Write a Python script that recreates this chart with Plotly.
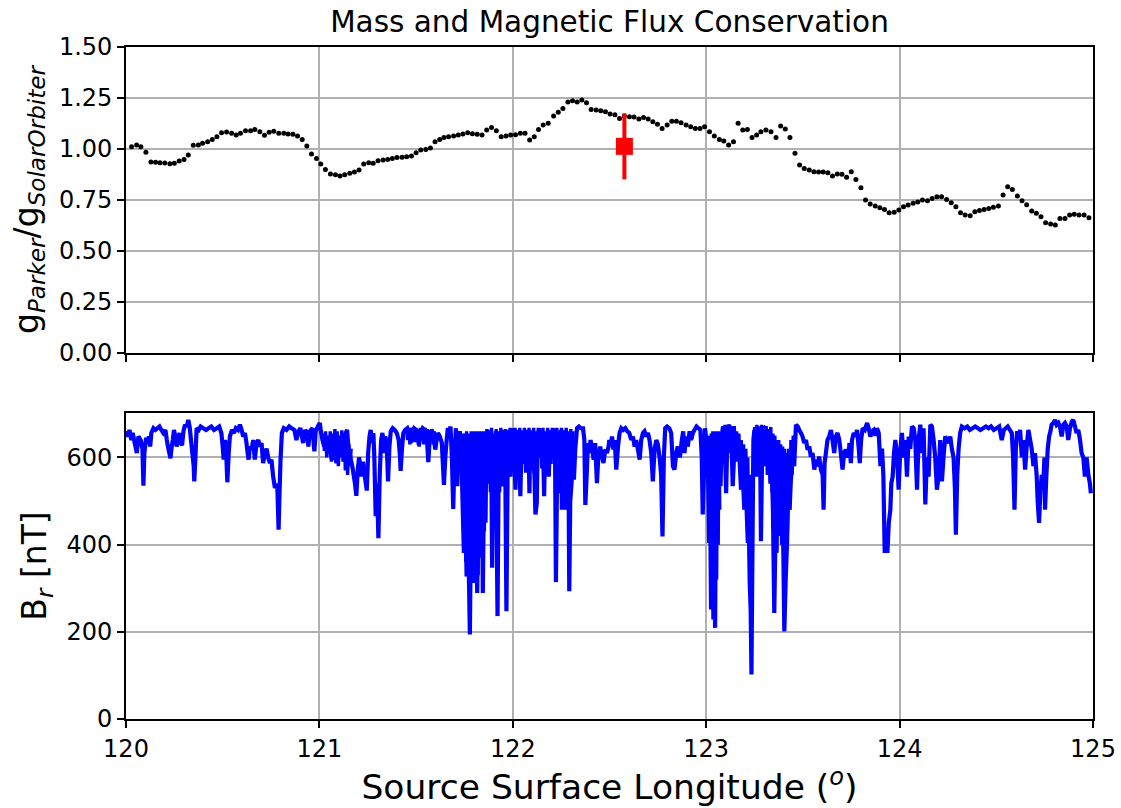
import plotly.graph_objects as go
from plotly.subplots import make_subplots

# ---------------- top panel: g_Parker / g_SolarOrbiter ----------------
ratio_lon = [
    120.029, 120.055, 120.077, 120.103, 120.129, 120.153, 120.176, 120.201, 120.227, 120.250,
    120.275, 120.300, 120.322, 120.348, 120.374, 120.396, 120.422, 120.446, 120.470, 120.494,
    120.520, 120.546, 120.570, 120.592, 120.618, 120.644, 120.666, 120.692, 120.716, 120.740,
    120.764, 120.790, 120.816, 120.838, 120.863, 120.887, 120.911, 120.935, 120.959, 120.985,
    121.007, 121.031, 121.057, 121.083, 121.107, 121.131, 121.157, 121.181, 121.205, 121.229,
    121.255, 121.278, 121.303, 121.329, 121.353, 121.377, 121.401, 121.427, 121.451, 121.476,
    121.500, 121.524, 121.550, 121.574, 121.598, 121.622, 121.644, 121.668, 121.694, 121.718,
    121.742, 121.767, 121.791, 121.816, 121.841, 121.865, 121.890, 121.915, 121.940, 121.965,
    121.989, 122.014, 122.039, 122.063, 122.087, 122.111, 122.133, 122.157, 122.183, 122.211,
    122.235, 122.259, 122.285, 122.309, 122.333, 122.357, 122.381, 122.405, 122.431, 122.455,
    122.479, 122.503, 122.528, 122.552, 122.577, 122.603, 122.627, 122.652, 122.676, 122.700,
    122.724, 122.748, 122.772, 122.798, 122.822, 122.846, 122.870, 122.896, 122.920, 122.944,
    122.968, 122.992, 123.017, 123.042, 123.068, 123.091, 123.116, 123.141, 123.165, 123.189,
    123.213, 123.237, 123.261, 123.283, 123.309, 123.335, 123.361, 123.385, 123.409, 123.433,
    123.459, 123.483, 123.507, 123.533, 123.557, 123.581, 123.605, 123.629, 123.653, 123.678,
    123.702, 123.726, 123.750, 123.774, 123.800, 123.824, 123.848, 123.874, 123.898, 123.922,
    123.946, 123.972, 123.996, 124.020, 124.044, 124.070, 124.094, 124.118, 124.144, 124.168,
    124.193, 124.217, 124.243, 124.267, 124.291, 124.315, 124.339, 124.365, 124.389, 124.413,
    124.437, 124.461, 124.485, 124.511, 124.535, 124.559, 124.583, 124.609, 124.633, 124.657,
    124.683, 124.707, 124.731, 124.755, 124.781, 124.805, 124.829, 124.855, 124.879, 124.903,
    124.928, 124.954, 124.979,
]
ratio_val = [
    1.011, 1.020, 1.011, 0.984, 0.936, 0.935, 0.933, 0.931, 0.928, 0.930,
    0.941, 0.949, 0.971, 1.018, 1.020, 1.028, 1.036, 1.047, 1.060, 1.080,
    1.083, 1.077, 1.069, 1.077, 1.090, 1.090, 1.096, 1.085, 1.067, 1.082,
    1.087, 1.077, 1.077, 1.074, 1.072, 1.064, 1.047, 1.015, 0.975, 0.953,
    0.926, 0.900, 0.877, 0.874, 0.868, 0.874, 0.881, 0.887, 0.897, 0.926,
    0.933, 0.930, 0.943, 0.946, 0.949, 0.953, 0.958, 0.959, 0.962, 0.966,
    0.982, 0.995, 0.998, 1.005, 1.036, 1.047, 1.056, 1.060, 1.064, 1.069,
    1.074, 1.080, 1.075, 1.072, 1.069, 1.093, 1.106, 1.090, 1.060, 1.064,
    1.069, 1.070, 1.077, 1.077, 1.044, 1.060, 1.096, 1.118, 1.126, 1.162,
    1.180, 1.199, 1.230, 1.237, 1.230, 1.240, 1.227, 1.194, 1.191, 1.188,
    1.183, 1.172, 1.168, 1.150, 1.162, 1.158, 1.157, 1.147, 1.155, 1.147,
    1.134, 1.121, 1.101, 1.118, 1.136, 1.136, 1.129, 1.118, 1.109, 1.101,
    1.101, 1.109, 1.085, 1.064, 1.047, 1.039, 1.020, 1.036, 1.126, 1.093,
    1.096, 1.057, 1.069, 1.085, 1.093, 1.085, 1.056, 1.113, 1.098, 1.057,
    0.979, 0.922, 0.905, 0.897, 0.889, 0.887, 0.887, 0.884, 0.868, 0.877,
    0.876, 0.861, 0.889, 0.851, 0.810, 0.750, 0.730, 0.721, 0.712, 0.704,
    0.688, 0.690, 0.701, 0.717, 0.725, 0.734, 0.740, 0.750, 0.747, 0.757,
    0.766, 0.766, 0.753, 0.737, 0.717, 0.688, 0.676, 0.673, 0.693, 0.698,
    0.704, 0.708, 0.714, 0.721, 0.775, 0.815, 0.802, 0.770, 0.747, 0.727,
    0.696, 0.685, 0.668, 0.639, 0.632, 0.627, 0.660, 0.660, 0.676, 0.680,
    0.676, 0.676, 0.663,
]

# single measurement with error bar
point_lon = [122.577]
point_val = [1.013]
point_err = [0.162]

# ---------------- bottom panel: B_r [nT] ----------------
br_lon = [
    120.001, 120.011, 120.018, 120.028, 120.035, 120.045, 120.056, 120.064, 120.076, 120.085,
    120.090, 120.095, 120.104, 120.111, 120.118, 120.125, 120.131, 120.142, 120.152, 120.162,
    120.173, 120.183, 120.193, 120.204, 120.211, 120.217, 120.224, 120.230, 120.235, 120.242,
    120.248, 120.255, 120.262, 120.269, 120.276, 120.283, 120.290, 120.297, 120.305, 120.314,
    120.322, 120.329, 120.336, 120.343, 120.350, 120.353, 120.359, 120.365, 120.376, 120.386,
    120.400, 120.414, 120.427, 120.441, 120.455, 120.469, 120.482, 120.493, 120.500, 120.505,
    120.512, 120.519, 120.524, 120.531, 120.537, 120.548, 120.558, 120.568, 120.579, 120.589,
    120.598, 120.606, 120.615, 120.623, 120.629, 120.634, 120.641, 120.649, 120.658, 120.666,
    120.675, 120.684, 120.692, 120.701, 120.709, 120.718, 120.727, 120.735, 120.744, 120.752,
    120.761, 120.770, 120.778, 120.783, 120.789, 120.794, 120.799, 120.806, 120.816, 120.830,
    120.844, 120.857, 120.871, 120.881, 120.892, 120.902, 120.916, 120.926, 120.936, 120.943,
    120.950, 120.964, 120.974, 120.981, 120.992, 121.002, 121.009, 121.016, 121.024, 121.031,
    121.040, 121.048, 121.057, 121.065, 121.072, 121.081, 121.088, 121.095, 121.102, 121.108,
    121.115, 121.122, 121.129, 121.136, 121.143, 121.150, 121.157, 121.163, 121.170, 121.177,
    121.184, 121.191, 121.198, 121.205, 121.212, 121.218, 121.225, 121.234,
    121.245, 121.252, 121.259, 121.265, 121.272, 121.279, 121.284, 121.291, 121.298, 121.305,
    121.312, 121.319, 121.326, 121.334, 121.341, 121.348, 121.355, 121.362, 121.369, 121.379,
    121.389, 121.400, 121.410, 121.417, 121.420, 121.427, 121.434, 121.444, 121.455, 121.465,
    121.472, 121.480, 121.489, 121.499, 121.506, 121.515, 121.523, 121.534, 121.544, 121.554,
    121.563, 121.570, 121.578, 121.589, 121.599, 121.606, 121.613, 121.623, 121.633, 121.644,
    121.651, 121.658, 121.664, 121.671, 121.678, 121.685, 121.692, 121.699, 121.706, 121.713,
    121.719, 121.726, 121.733, 121.740, 121.747, 121.752, 121.757, 121.761, 121.766, 121.771,
    121.778, 121.783, 121.790, 121.795, 121.802, 121.809, 121.816, 121.823, 121.830, 121.833,
    121.840, 121.845, 121.850, 121.854, 121.861, 121.867, 121.874, 121.881, 121.888, 121.893,
    121.898, 121.905, 121.912, 121.921, 121.928, 121.936, 121.945, 121.953, 121.960, 121.967,
    121.974, 121.981, 121.988, 121.995, 122.002, 122.008, 122.014, 122.020, 122.027, 122.034,
    122.039, 122.046, 122.053, 122.060, 122.067, 122.074, 122.081, 122.086, 122.091, 122.098,
    122.105, 122.112, 122.117, 122.124, 122.129, 122.136, 122.143, 122.149, 122.156, 122.162,
    122.168, 122.177, 122.186, 122.194, 122.203, 122.211, 122.218, 122.223, 122.229, 122.235,
    122.242, 122.249, 122.254, 122.261, 122.268, 122.273, 122.280, 122.287, 122.292, 122.297,
    122.306, 122.311, 122.316, 122.323, 122.332, 122.342, 122.352, 122.363, 122.370, 122.375,
    122.382, 122.389, 122.395, 122.402, 122.411, 122.418, 122.426, 122.435, 122.442, 122.452,
    122.461, 122.469, 122.478, 122.487, 122.495,
    122.499, 122.506, 122.513, 122.520, 122.527, 122.535, 122.544, 122.552, 122.561, 122.571,
    122.582, 122.592, 122.602, 122.613, 122.621, 122.630, 122.638, 122.647, 122.656, 122.664,
    122.673, 122.681, 122.690, 122.699, 122.707, 122.716, 122.724, 122.733, 122.742, 122.750,
    122.759, 122.767, 122.774, 122.781, 122.788, 122.798, 122.809, 122.819, 122.828, 122.836,
    122.845, 122.853, 122.864, 122.874, 122.881, 122.888, 122.895, 122.905, 122.914, 122.922,
    122.931, 122.939, 122.950, 122.960, 122.970, 122.977, 122.982, 122.988, 122.994, 123.001,
    123.008, 123.015, 123.020, 123.025, 123.032, 123.037, 123.043, 123.046, 123.051, 123.056,
    123.062, 123.067, 123.074, 123.080, 123.087, 123.094, 123.103, 123.108, 123.115, 123.122,
    123.129, 123.137, 123.146, 123.154, 123.163, 123.172, 123.180, 123.189, 123.197, 123.206,
    123.215, 123.220, 123.225, 123.230, 123.234, 123.239, 123.244, 123.249, 123.258, 123.266,
    123.273, 123.280, 123.283, 123.289, 123.295, 123.304, 123.311, 123.318, 123.325, 123.332,
    123.338, 123.345, 123.352, 123.359, 123.364, 123.369, 123.376, 123.383, 123.390, 123.397,
    123.404, 123.411, 123.418, 123.424, 123.431, 123.438, 123.447, 123.455, 123.464, 123.473,
    123.481, 123.490, 123.498, 123.507, 123.516, 123.524, 123.533, 123.541, 123.550, 123.559,
    123.567, 123.576, 123.584, 123.593, 123.602, 123.607, 123.612, 123.619, 123.627, 123.636,
    123.645, 123.653, 123.662, 123.670, 123.679, 123.688, 123.696, 123.705, 123.713, 123.722,
    123.731, 123.739,
    123.741, 123.748, 123.754, 123.763, 123.772, 123.780, 123.789, 123.794, 123.801, 123.809,
    123.820, 123.832, 123.840, 123.849, 123.858, 123.866, 123.875, 123.883, 123.892, 123.901,
    123.909, 123.916, 123.923, 123.930, 123.937, 123.944, 123.952, 123.957, 123.964, 123.971,
    123.978, 123.987, 123.995, 124.004, 124.012, 124.021, 124.030, 124.038, 124.047, 124.055,
    124.064, 124.073, 124.081, 124.090, 124.098, 124.107, 124.116, 124.124, 124.133, 124.141,
    124.150, 124.159, 124.167, 124.176, 124.184, 124.193, 124.202, 124.210, 124.219, 124.227,
    124.236, 124.245, 124.253, 124.262, 124.270, 124.279, 124.286, 124.291, 124.298, 124.305,
    124.313, 124.322, 124.336, 124.350, 124.363, 124.377, 124.391, 124.405, 124.418, 124.432,
    124.446, 124.460, 124.473, 124.487, 124.501, 124.515, 124.528, 124.539, 124.549, 124.559,
    124.570, 124.580, 124.587, 124.594, 124.601, 124.608, 124.614, 124.623, 124.632, 124.640,
    124.649, 124.657, 124.666, 124.675, 124.683, 124.692, 124.700, 124.709, 124.714, 124.721,
    124.728, 124.735, 124.742, 124.749, 124.752, 124.759, 124.766, 124.773, 124.780, 124.786,
    124.795, 124.804, 124.812, 124.821, 124.829, 124.838, 124.847, 124.855, 124.864, 124.872,
    124.881, 124.890, 124.898, 124.907, 124.915, 124.924, 124.933, 124.941, 124.950, 124.958,
    124.967, 124.976, 124.984, 124.989,
]
br_val = [
    660, 648, 663, 640, 656, 633, 610, 648, 640, 620,
    535, 610, 645, 633, 648, 625, 656, 667, 663, 667,
    671, 663, 656, 663, 640, 625, 610, 598, 620, 640,
    663, 648, 625, 640, 656, 633, 628, 660, 675, 670,
    686, 670, 640, 610, 580, 545, 600, 667, 663, 671,
    667, 663, 667, 671, 663, 667, 671, 656, 625, 595,
    640, 600, 543, 610, 648, 663, 656, 667, 663, 675,
    663, 648, 656, 633, 610, 595, 625, 618, 640, 595,
    633, 640, 625, 633, 587, 610, 620, 600, 587, 595,
    556, 530, 540, 526, 434, 520, 595, 656, 667, 663,
    671, 667, 663, 640, 660, 667, 633, 663, 656, 625,
    660, 667, 614, 660, 671, 679, 656, 640, 625, 648,
    618, 633, 610, 595, 620, 602, 587, 630, 648, 640,
    618, 625, 648, 656, 663, 625, 610, 595, 580, 560,
    540, 512, 570, 600, 580, 556, 590, 560,
    524, 610, 648, 663, 633, 656, 600, 465, 540, 415,
    560, 640, 656, 610, 648, 633, 545, 625, 660, 667,
    663, 656, 640, 600, 569, 620, 656, 663, 667, 656,
    633, 660, 667, 663, 648, 628, 656, 667, 663, 660,
    589, 640, 663, 656, 618, 640, 656, 648, 633, 537,
    600, 640, 667, 660, 671, 600, 482, 610, 667, 534,
    640, 660, 633, 500, 381, 560, 450, 327, 600, 380,
    194, 420, 327, 600, 312, 500, 289, 560, 640, 442,
    600, 289, 500, 480, 640, 556, 663, 600, 650, 347,
    610, 545, 660, 236, 640, 556, 534, 663, 640, 247,
    610, 663, 556, 667, 640, 600, 526, 663, 640, 600,
    511, 650, 640, 595, 663, 620, 650, 518, 660, 640,
    600, 560, 469, 495, 640, 667, 633, 600, 640, 511,
    656, 620, 556, 663, 602, 667, 640, 314, 560, 518,
    600, 663, 480, 620, 660, 480, 560, 640, 293, 500,
    556, 640, 549, 620, 667, 671, 667, 667, 640, 491,
    560, 633, 610, 640, 618, 595, 633, 541, 600, 625,
    602, 587, 618, 610, 625,
    640, 625, 648, 618, 640, 572, 625, 656, 667, 663,
    667, 660, 656, 640, 648, 625, 640, 618, 595, 640,
    656, 660, 648, 656, 640, 610, 545, 618, 640, 630,
    600, 560, 419, 600, 667, 671, 667, 656, 580, 572,
    610, 625, 600, 640, 660, 610, 648, 625, 660, 640,
    656, 663, 671, 667, 663, 600, 469, 560, 667, 640,
    610, 404, 520, 251, 480, 228, 380, 209, 572, 400,
    520, 560, 534, 648, 671, 663, 518, 620, 675, 667,
    671, 534, 620, 648, 640, 600, 526, 560, 480, 520,
    404, 450, 312, 250, 102, 380, 640, 663, 556, 600,
    671, 560, 408, 600, 671, 667, 600, 663, 640, 540,
    600, 480, 243, 450, 381, 560, 500, 600, 540, 450,
    201, 320, 404, 520, 480, 550, 600, 580, 675, 671,
    663, 656, 648, 633, 640, 618, 625, 602, 610, 572,
    595, 580, 602, 572, 560, 480, 587, 610, 640, 648,
    663, 640, 610, 648, 656, 640, 610, 572, 610, 618,
    600, 625,
    633, 587, 640, 656, 648, 663, 620, 587, 640, 667,
    663, 679, 667, 648, 660, 663, 650, 667, 656, 580,
    620, 560, 381, 420, 381, 450, 480, 540, 556, 610,
    640, 600, 526, 620, 656, 600, 640, 556, 648, 620,
    671, 667, 640, 526, 640, 675, 610, 667, 492, 600,
    556, 675, 671, 640, 600, 526, 560, 640, 545, 600,
    648, 640, 633, 648, 620, 600, 530, 423, 560, 620,
    656, 671, 667, 671, 663, 667, 671, 667, 663, 667,
    671, 667, 671, 663, 667, 671, 640, 663, 667, 671,
    663, 656, 600, 480, 620, 660, 640, 663, 600, 640,
    572, 625, 663, 640, 620, 580, 610, 556, 500, 450,
    520, 560, 530, 600, 480, 560, 620, 648, 660, 675,
    679, 686, 675, 679, 671, 648, 675, 679, 671, 640,
    667, 682, 686, 671, 656, 663, 640, 610, 600, 556,
    600, 560, 540, 518,
]

# fast fluctuations that fill the busiest stretches of B_r solid blue,
# one pair of lists per stretch
band1_lon = [121.020, 121.026, 121.032, 121.038, 121.044, 121.050, 121.056, 121.062, 121.068,
             121.074, 121.080, 121.086, 121.092, 121.098, 121.104, 121.110, 121.116, 121.122,
             121.128, 121.134, 121.140, 121.146, 121.152, 121.158, 121.164]
band1_val = [655, 615, 660, 600, 650, 610, 660, 590, 655,
             600, 665, 605, 660, 580, 650, 600, 662, 590,
             655, 570, 640, 560, 630, 580, 620]

band2_lon = [121.450, 121.456, 121.462, 121.468, 121.474, 121.480, 121.486, 121.492, 121.498,
             121.504, 121.510, 121.516, 121.522, 121.528, 121.534, 121.540, 121.546, 121.552,
             121.558, 121.564, 121.570, 121.576, 121.582, 121.588, 121.594, 121.600, 121.606]
band2_val = [668, 640, 665, 630, 668, 645, 665, 635, 668,
             640, 665, 625, 668, 640, 665, 630, 668, 645,
             665, 620, 660, 640, 665, 630, 660, 620, 655]

band3_lon = [121.745, 121.749, 121.753, 121.757, 121.761, 121.765, 121.769, 121.773, 121.777,
             121.781, 121.785, 121.789, 121.793, 121.797, 121.801, 121.805, 121.809, 121.813,
             121.817, 121.821, 121.825, 121.829, 121.833, 121.837, 121.841, 121.845, 121.849,
             121.853, 121.857, 121.861, 121.866, 121.872, 121.878, 121.884, 121.890, 121.896,
             121.902, 121.908, 121.914, 121.920, 121.926, 121.932, 121.938, 121.944, 121.950,
             121.956, 121.962, 121.968, 121.974, 121.980, 121.986, 121.992,
             122.000, 122.006, 122.012, 122.018, 122.024, 122.030, 122.036, 122.042, 122.048,
             122.054, 122.060, 122.066, 122.072, 122.078, 122.084, 122.090, 122.096, 122.102,
             122.108, 122.114, 122.120, 122.126, 122.132, 122.138, 122.144, 122.150, 122.156,
             122.162, 122.168, 122.174, 122.180, 122.186, 122.192, 122.198, 122.204, 122.210,
             122.216, 122.222, 122.228, 122.234, 122.240, 122.246, 122.252, 122.258, 122.264,
             122.270, 122.276, 122.282, 122.288, 122.294, 122.300, 122.306, 122.312]
band3_val = [655, 420, 650, 360, 660, 400, 640, 330, 655,
             380, 660, 340, 645, 400, 660, 350, 650, 390,
             660, 330, 655, 370, 660, 410, 650, 380, 660,
             430, 655, 450, 665, 540, 660, 520, 668, 560,
             655, 530, 665, 560, 660, 520, 668, 545, 660,
             560, 665, 530, 660, 555, 668, 570,
             665, 580, 668, 570, 660, 590, 668, 570, 662,
             585, 668, 565, 660, 590, 668, 575, 662, 595,
             668, 570, 660, 585, 668, 600, 662, 575, 668,
             595, 660, 585, 668, 600, 662, 585, 668, 600,
             660, 580, 668, 595, 660, 575, 668, 595, 662,
             570, 668, 590, 660, 580, 665, 600, 660]

band4_lon = [123.018, 123.022, 123.026, 123.030, 123.034, 123.038, 123.042, 123.046, 123.050,
             123.054, 123.058, 123.062, 123.066, 123.070]
band4_val = [650, 420, 655, 330, 660, 300, 640, 360, 660,
             320, 650, 400, 660, 480]

band5_lon = [123.085, 123.091, 123.097, 123.103, 123.109, 123.115, 123.121, 123.127, 123.133,
             123.139, 123.145, 123.151, 123.157, 123.163, 123.169, 123.175, 123.181, 123.187,
             123.193, 123.199, 123.205, 123.210, 123.215, 123.220, 123.225, 123.230]
band5_val = [670, 615, 675, 600, 672, 620, 675, 610, 670,
             600, 672, 615, 660, 590, 655, 580, 640, 560,
             630, 540, 620, 500, 600, 450, 560, 400]

band6_lon = [123.250, 123.256, 123.262, 123.268, 123.274, 123.280, 123.286, 123.292, 123.298,
             123.304, 123.310, 123.316, 123.322, 123.328, 123.334, 123.340, 123.345, 123.350,
             123.355, 123.360, 123.365, 123.370, 123.375, 123.380, 123.385, 123.390, 123.395,
             123.400, 123.405, 123.410, 123.415, 123.420, 123.426, 123.432, 123.438, 123.444,
             123.450]
band6_val = [670, 600, 675, 590, 670, 610, 675, 600, 670,
             580, 672, 560, 665, 590, 670, 520, 655, 470,
             650, 430, 640, 450, 640, 420, 630, 400, 625,
             380, 620, 400, 610, 430, 620, 480, 640, 560,
             650]

bands = [
    (band1_lon, band1_val), (band2_lon, band2_val), (band3_lon, band3_val),
    (band4_lon, band4_val), (band5_lon, band5_val), (band6_lon, band6_val),
]

x_ticks = [120, 121, 122, 123, 124, 125]
ratio_ticks = [0.0, 0.25, 0.5, 0.75, 1.0, 1.25, 1.5]
br_ticks = [0, 200, 400, 600]

FONT = "DejaVu Sans"
GRID = "#b0b0b0"
BLUE = "#0000ff"

fig = make_subplots(rows=2, cols=1, shared_xaxes=False)

fig.add_trace(go.Scatter(
    x=ratio_lon, y=ratio_val, mode="markers",
    marker=dict(color="black", size=5, line=dict(width=0)),
    showlegend=False, hoverinfo="skip"), row=1, col=1)

fig.add_trace(go.Scatter(
    x=point_lon, y=point_val, mode="markers",
    marker=dict(symbol="square", color="red", size=17, line=dict(width=0)),
    error_y=dict(type="data", array=point_err, color="red", thickness=4, width=0),
    showlegend=False), row=1, col=1)

for b_lon, b_val in bands:
    fig.add_trace(go.Scatter(
        x=b_lon, y=b_val, mode="lines",
        line=dict(color=BLUE, width=3.4, simplify=False),
        showlegend=False, hoverinfo="skip"), row=2, col=1)

fig.add_trace(go.Scatter(
    x=br_lon, y=br_val, mode="lines",
    line=dict(color=BLUE, width=4.2, simplify=False),
    showlegend=False), row=2, col=1)

axis_common = dict(
    showline=True, linecolor="black", linewidth=1.6, mirror=True,
    ticks="outside", ticklen=7, tickwidth=1.6, tickcolor="black",
    showgrid=True, gridcolor=GRID, gridwidth=1.8, zeroline=False,
    automargin=False,
    tickfont=dict(family=FONT, size=24, color="black"),
)

fig.update_layout(
    template="none",
    width=1121, height=808,
    margin=dict(l=126, r=28, t=47, b=89, pad=0),
    paper_bgcolor="white", plot_bgcolor="white",
    font=dict(family=FONT, color="black"),
    title=dict(text="Mass and Magnetic Flux Conservation",
               x=0.5, xref="paper", xanchor="center",
               y=1 - 22 / 808, yref="container", yanchor="middle",
               font=dict(family=FONT, size=29.5, color="black")),
)

fig.update_xaxes(**axis_common)
fig.update_yaxes(**axis_common)

fig.update_layout(
    xaxis=dict(domain=[0, 1], range=[120, 125], tickvals=x_ticks,
               showticklabels=False, anchor="y"),
    yaxis=dict(domain=[0.5446, 1.0], range=[0, 1.5], tickvals=ratio_ticks,
               tickformat=".2f", anchor="x",
               title=dict(text="g<sub><i>Parker</i></sub>/g<sub><i>SolarOrbiter</i></sub>",
                          font=dict(family=FONT, size=33, color="black"),
                          standoff=10)),
    xaxis2=dict(domain=[0, 1], range=[120, 125], tickvals=x_ticks, anchor="y2",
                title=dict(text="Source Surface Longitude (<sup><i>o</i></sup>)",
                           font=dict(family=FONT, size=34.5, color="black"),
                           standoff=10)),
    yaxis2=dict(domain=[0.0, 0.4554], range=[0, 702], tickvals=br_ticks, anchor="x2",
                title=dict(text="B<sub><i>r</i></sub> [nT]",
                           font=dict(family=FONT, size=33, color="black"),
                           standoff=10)),
)

fig.write_html("out.html")
